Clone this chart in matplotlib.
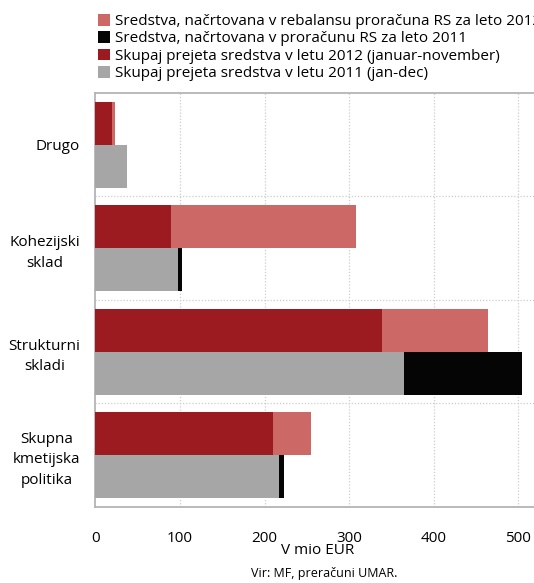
import numpy as np
import matplotlib.pyplot as plt

plt.rcParams['font.family'] = ['Open Sans', 'DejaVu Sans']

categories = ['Drugo', 'Kohezijski\nsklad', 'Strukturni\nskladi', 'Skupna\nkmetijska\npolitika']
planned_2012 = [23, 308, 464, 255]
received_2012 = [20, 89, 339, 210]
planned_2011 = [0, 102, 504, 223]
received_2011 = [37, 98, 365, 217]
labels = ['Sredstva, načrtovana v rebalansu proračuna RS za leto 2012',
          'Sredstva, načrtovana v proračunu RS za leto 2011',
          'Skupaj prejeta sredstva v letu 2012 (januar-november)',
          'Skupaj prejeta sredstva v letu 2011 (jan-dec)']
xticks = [0, 100, 200, 300, 400, 500]

c_pl12 = '#cc6966'
c_pl11 = '#050505'
c_re12 = '#9c1b21'
c_re11 = '#a6a6a6'

fig = plt.figure(figsize=(5.34, 5.83), dpi=100)
ax = fig.add_axes([0.1788, 0.1304, 0.839, 0.7101])

y = np.arange(len(categories))
h = 0.415
# 2012 bars in the upper half of each group, 2011 in the lower half
b1 = ax.barh(y - h, planned_2012, height=h, align='edge', color=c_pl12, zorder=2)
b2 = ax.barh(y, planned_2011, height=h, align='edge', color=c_pl11, zorder=2)
b3 = ax.barh(y - h, received_2012, height=h, align='edge', color=c_re12, zorder=3)
b4 = ax.barh(y, received_2011, height=h, align='edge', color=c_re11, zorder=3)

ax.set_ylim(3.5, -0.5)
ax.set_xlim(0, 530)
ax.set_yticks(y)
ax.set_yticklabels(categories, fontsize=11, linespacing=1.5, multialignment='center')
ax.set_xticks(xticks)
ax.set_xticklabels([str(t) for t in xticks], fontsize=11)
ax.tick_params(axis='both', length=0)
ax.tick_params(axis='x', pad=17)
ax.tick_params(axis='y', pad=11)

for yy in [0.5, 1.5, 2.5]:
    ax.axhline(yy, color='#cccccc', lw=0.9, ls=(0, (1, 1.5)), zorder=1)
for xx in xticks[1:]:
    ax.axvline(xx, color='#cccccc', lw=0.9, ls=(0, (1, 1.5)), zorder=1)

for s in ['left', 'bottom', 'top']:
    ax.spines[s].set_color('#b4b4b4')
    ax.spines[s].set_linewidth(1.3)
ax.spines['right'].set_visible(False)

fig.text(318 / 534, 1 - 550 / 583, 'V mio EUR', ha='center', va='center', fontsize=11)
fig.text(324 / 534, 1 - 574 / 583, 'Vir: MF, preračuni UMAR.', ha='center', va='center', fontsize=9)

fig.legend([b1[0], b2[0], b3[0], b4[0]], labels, loc='upper left',
           bbox_to_anchor=(98 / 534, 1 - 14 / 583), frameon=False, fontsize=11,
           handlelength=0.8, handleheight=0.8, handletextpad=0.3,
           labelspacing=0.14, borderpad=0, borderaxespad=0)

fig.savefig('out.png', dpi=100)
